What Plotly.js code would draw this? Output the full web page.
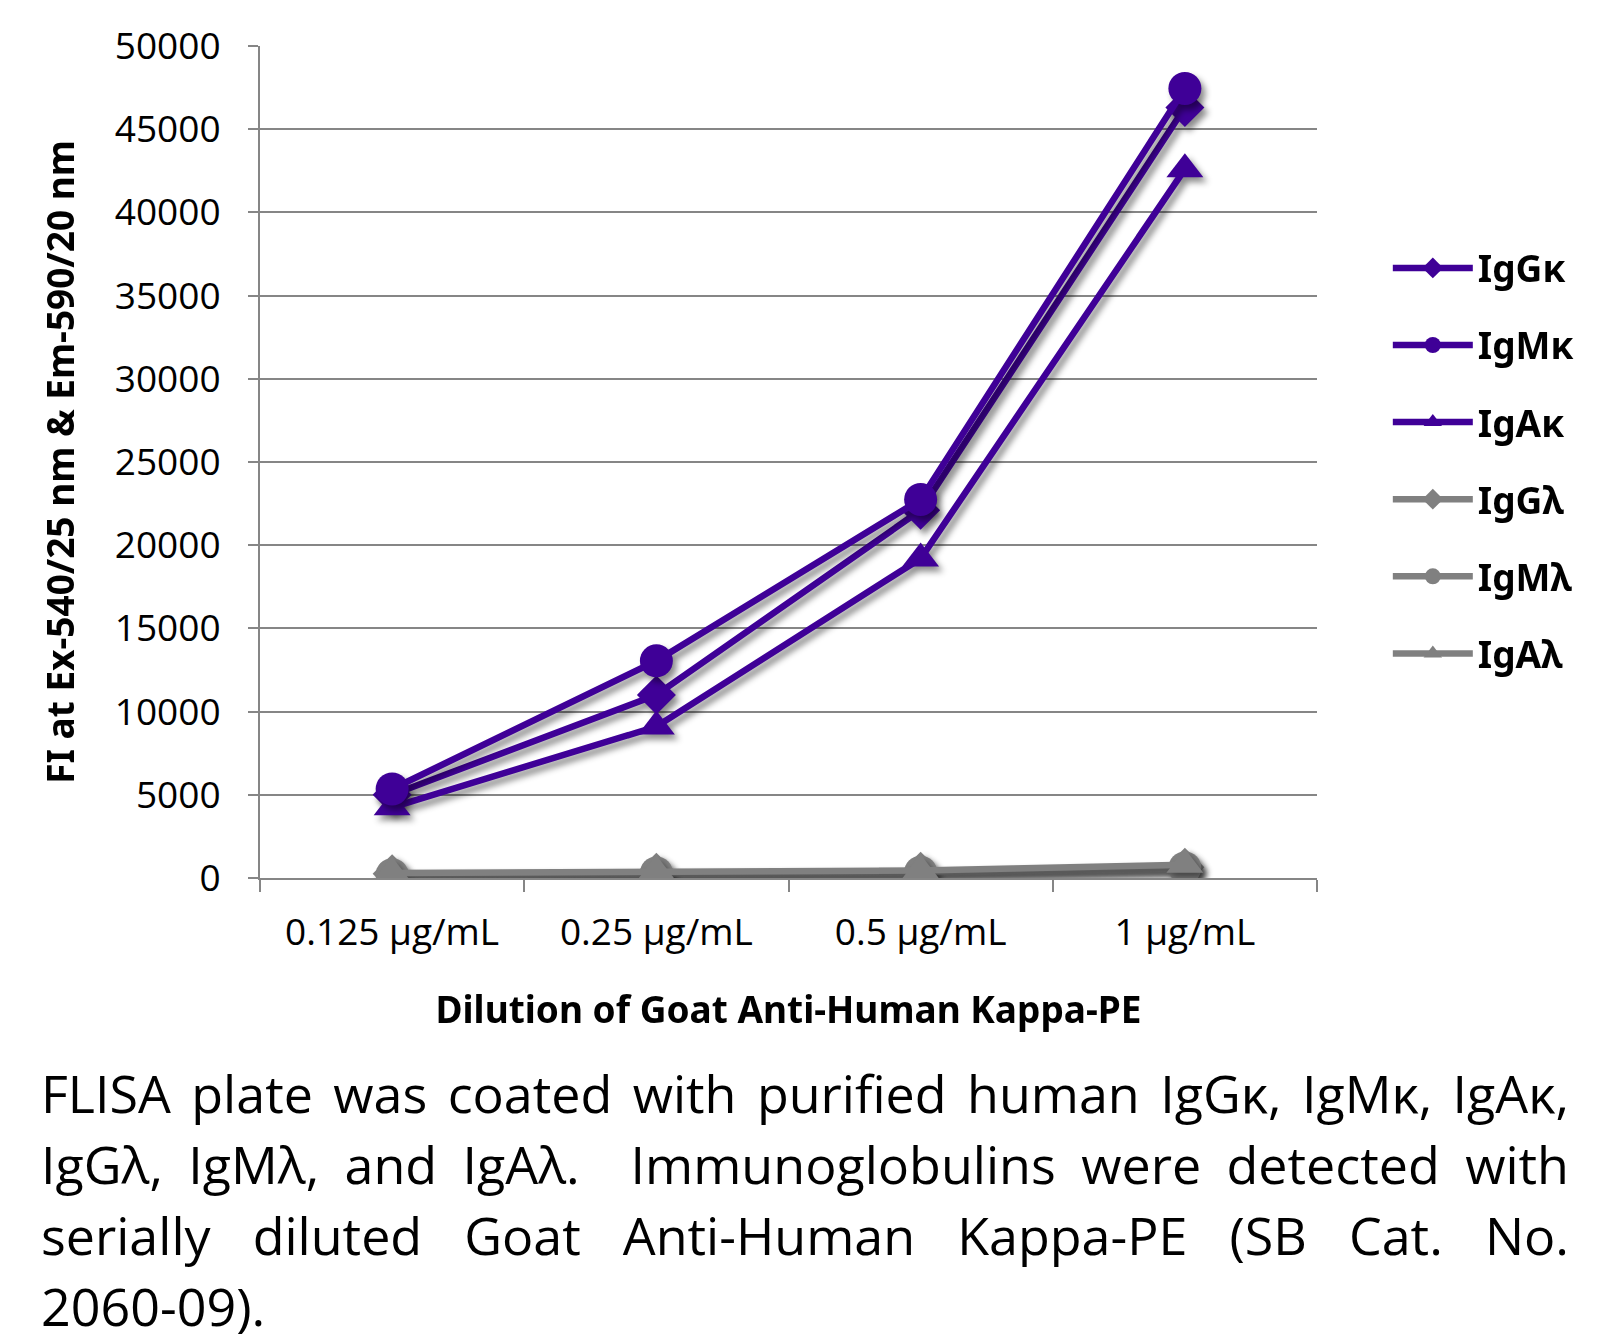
<!DOCTYPE html>
<html>
<head>
<meta charset="utf-8">
<script src="https://cdn.plot.ly/plotly-3.0.1.min.js"></script>
<style>
  html, body { margin: 0; padding: 0; background: #fff; }
  #wrap { position: relative; width: 1608px; height: 1340px; }
  #chart { position: absolute; left: 0; top: 0; width: 1608px; height: 1340px; }
  #caption { position: absolute; left: 41px; top: 1057px; width: 1528px;
    font-family: "Open Sans", "Noto Sans", sans-serif; font-size: 52px; line-height: 71px; color: #000; }
  #caption div { text-align: justify; text-align-last: justify; white-space: nowrap; }
  #caption div.last { text-align-last: left; }
  .scatterlayer .trace { filter: drop-shadow(4px 5px 3px rgba(0,0,0,0.45)); }
</style>
</head>
<body>
<div id="wrap">
  <div id="chart"></div>
  <div id="caption">
    <div>FLISA plate was coated with purified human IgGκ, IgMκ, IgAκ,</div>
    <div>IgGλ, IgMλ, and IgAλ.&nbsp; Immunoglobulins were detected with</div>
    <div>serially diluted Goat Anti-Human Kappa-PE (SB Cat. No.</div>
    <div class="last">2060-09).</div>
  </div>
</div>
<script>
const categories = ["0.125 µg/mL", "0.25 µg/mL", "0.5 µg/mL", "1 µg/mL"];
const seriesNames = ["IgGκ", "IgMκ", "IgAκ", "IgGλ", "IgMλ", "IgAλ"];
const IgG_kappa = [5000, 11000, 22100, 46300];
const IgM_kappa = [5350, 13050, 22750, 47450];
const IgA_kappa = [4250, 9100, 19200, 42600];
const IgG_lambda = [250, 350, 400, 650];
const IgM_lambda = [200, 300, 350, 600];
const IgA_lambda = [300, 400, 450, 800];
const yTicks = [0, 5000, 10000, 15000, 20000, 25000, 30000, 35000, 40000, 45000, 50000];

const purple = '#3f0097';
const grey = '#808080';
const values = [IgG_kappa, IgM_kappa, IgA_kappa, IgG_lambda, IgM_lambda, IgA_lambda];
const colors = [purple, purple, purple, grey, grey, grey];
const symbols = ['diamond', 'circle', 'triangle-up', 'diamond', 'circle', 'triangle-up'];
const sizes = [30, 33, 32, 30, 33, 32];

const order = [3, 4, 5, 0, 2, 1]; // draw grey first
const traces = [];
for (let k = 0; k < 6; k++) {
  traces.push({
    type: 'scatter', mode: 'lines+markers',
    x: categories, y: values[k], name: seriesNames[k],
    legendgroup: 'g' + k, legendrank: k + 1,
    line: { color: colors[k], width: 6.5 },
    marker: { color: colors[k], symbol: symbols[k], size: sizes[k], line: { width: 0 } },
    hoverinfo: 'x+y+name'
  });
}
const ordered = order.map(i => traces[i]);

const layout = {
  width: 1608, height: 1340,
  margin: { l: 260, r: 291, t: 46, b: 462 },
  paper_bgcolor: '#fff', plot_bgcolor: '#fff',
  showlegend: true,
  legend: {
    x: 1.067, xanchor: 'left', y: 0.77, yanchor: 'top',
    font: { family: '"Noto Sans", "Open Sans", sans-serif', size: 37, color: '#000', weight: 'bold' },
    itemwidth: 80, tracegroupgap: 26, itemsizing: 'trace',
    bgcolor: 'rgba(0,0,0,0)'
  },
  xaxis: {
    type: 'category', categoryorder: 'array', categoryarray: categories,
    range: [-0.5, 3.5],
    tickson: 'boundaries', ticks: 'outside', ticklen: 12, tickwidth: 2, tickcolor: '#868686',
    showline: true, linecolor: '#868686', linewidth: 2,
    showgrid: false, zeroline: false,
    tickfont: { family: '"Open Sans", "Noto Sans", sans-serif', size: 37, color: '#000' },
    ticklabelstandoff: 21,
    title: { text: 'Dilution of Goat Anti-Human Kappa-PE', standoff: 42,
      font: { family: '"Noto Sans", "Open Sans", sans-serif', size: 37, color: '#000', weight: 'bold' } }
  },
  yaxis: {
    range: [0, 50000], tickvals: yTicks, ticktext: yTicks.map(String),
    ticks: 'outside', ticklen: 10, tickwidth: 2, tickcolor: '#868686',
    showline: true, linecolor: '#868686', linewidth: 2,
    showgrid: true, gridcolor: '#868686', gridwidth: 2, zeroline: false,
    tickfont: { family: '"Open Sans", "Noto Sans", sans-serif', size: 37, color: '#000' },
    ticklabelstandoff: 20,
    title: { text: 'FI at Ex-540/25 nm &amp; Em-590/20 nm', standoff: 29,
      font: { family: '"Noto Sans", "Open Sans", sans-serif', size: 37, color: '#000', weight: 'bold' } }
  }
};

Plotly.newPlot('chart', ordered, layout, { displayModeBar: false, staticPlot: true });
</script>
</body>
</html>
